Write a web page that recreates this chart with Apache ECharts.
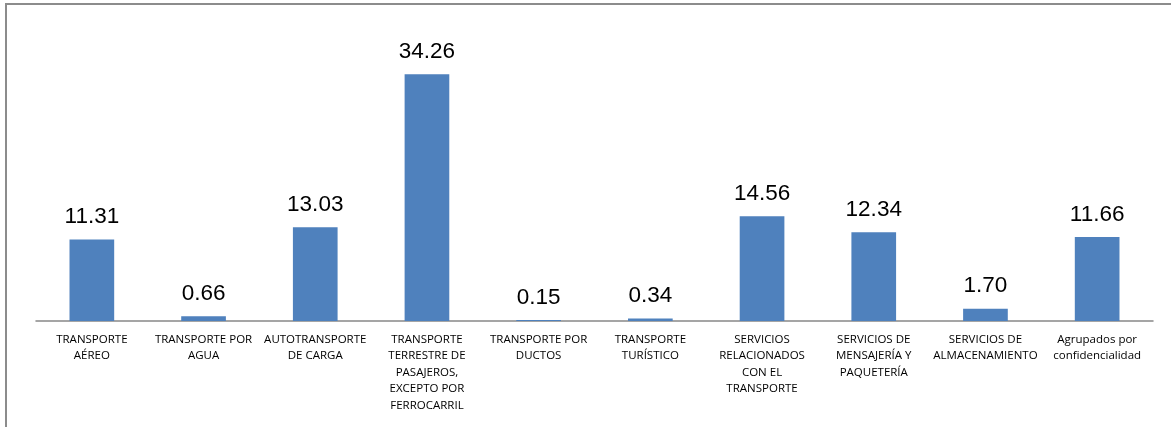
<!DOCTYPE html>
<html>
<head>
<meta charset="utf-8">
<script src="https://cdn.jsdelivr.net/npm/echarts@6/dist/echarts.min.js"></script>
<style>
	html, body { margin: 0; padding: 0; background: #fff; }
	.frame {
		position: absolute; left: 5px; top: 3px; width: 1200px; height: 460px;
		border-left: 2px solid #8c8c8c; border-top: 2px solid #8c8c8c;
	}
	#chart { position: absolute; left: 0; top: 0; width: 1171px; height: 427px; }
</style>
</head>
<body>
<div class="frame"></div>
<div id="chart"></div>
<script>
	const categories = [
		'TRANSPORTE\nAÉREO',
		'TRANSPORTE POR\nAGUA',
		'AUTOTRANSPORTE\nDE CARGA',
		'TRANSPORTE\nTERRESTRE DE\nPASAJEROS,\nEXCEPTO POR\nFERROCARRIL',
		'TRANSPORTE POR\nDUCTOS',
		'TRANSPORTE\nTURÍSTICO',
		'SERVICIOS\nRELACIONADOS\nCON EL\nTRANSPORTE',
		'SERVICIOS DE\nMENSAJERÍA Y\nPAQUETERÍA',
		'SERVICIOS DE\nALMACENAMIENTO',
		'Agrupados por\nconfidencialidad'
	]
	const values = [11.31, 0.66, 13.03, 34.26, 0.15, 0.34, 14.56, 12.34, 1.70, 11.66]

	let myChart = echarts.init(document.getElementById('chart'))
	let option = {
		animation: false,
		grid: {
			left: 36,
			right: 18,
			top: 33,
			bottom: 106,
			containLabel: false
		},
		xAxis: {
			type: 'category',
			data: categories,
			axisTick: { show: false },
			axisLine: {
				lineStyle: { color: '#888', width: 1.5 }
			},
			axisLabel: {
				interval: 0,
				margin: 10,
				color: '#000',
				fontFamily: 'Open Sans',
				fontSize: 11.5,
				lineHeight: 16.5
			}
		},
		yAxis: {
			type: 'value',
			min: 0,
			max: 40,
			show: false,
			splitLine: { show: false }
		},
		series: [{
			type: 'bar',
			data: values,
			barWidth: '40%',
			itemStyle: { color: '#4f81bd' },
			label: {
				show: true,
				position: 'top',
				distance: 11,
				color: '#000',
				fontFamily: 'Liberation Sans',
				fontSize: 22.5,
				formatter: p => p.value.toFixed(2)
			}
		}]
	}
	myChart.setOption(option)
</script>
</body>
</html>
